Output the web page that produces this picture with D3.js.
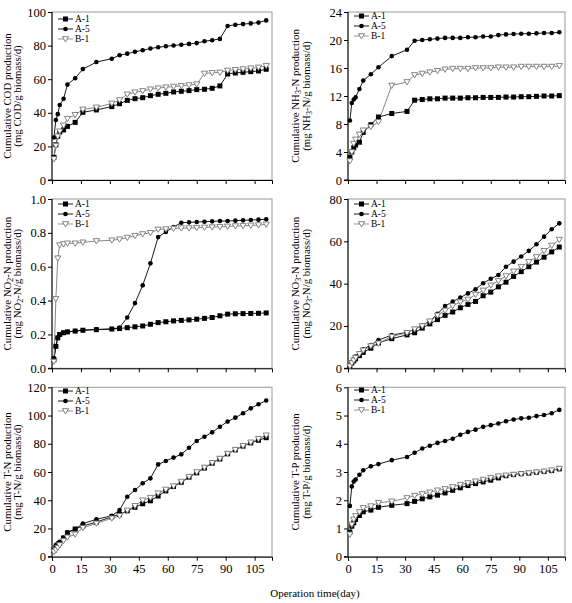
<!DOCTYPE html>
<html>
<head>
<meta charset="utf-8">
<script src="https://cdn.jsdelivr.net/npm/d3@7"></script>
<style>
  body { margin: 0; background: #fff; }
  svg { font-family: "Liberation Serif", "Times New Roman", serif; }
</style>
</head>
<body>
<div id="chart"></div>
<script>
// sampling days (same for every series)
const days = [1, 2, 3, 4, 6, 8, 12, 16, 23, 31, 35, 39, 43, 47, 51, 55, 59, 63, 67, 71, 75, 79, 83, 87, 91, 95, 99, 103, 107, 111];
const xTicks = [0, 15, 30, 45, 60, 75, 90, 105];
const seriesNames = ['A-1', 'A-5', 'B-1'];

// COD
const codA1 = [13.5, 21, 26, 28.6, 29.8, 31.9, 34.3, 40.3, 41.7, 43.7, 45.4, 47.4, 48.4, 49, 50.2, 51, 51.6, 52.4, 52.8, 53.2, 53.8, 54, 54.6, 56, 63.1, 63.7, 64.1, 64.5, 64.9, 65.9];
const codA5 = [25.3, 35.7, 39.2, 44.6, 48.4, 56.8, 60.6, 66, 70.2, 72.2, 74.3, 75.2, 76.3, 77.2, 78.3, 79, 79.6, 80.1, 80.5, 81, 81.5, 82.6, 83.2, 84, 91.7, 92.4, 92.8, 93.2, 93.7, 95];
const codB1 = [12.5, 20.5, 26, 29, 32.5, 36.5, 38.8, 42, 43.2, 45.6, 47.6, 51, 52.2, 53, 54, 54.6, 55.2, 55.6, 56, 56.5, 57, 63.4, 63.8, 64, 65.2, 65.6, 66, 66.5, 67, 68];
// NH3-N
const nh3A1 = [3.2, 4, 4.6, 5, 5.4, 6.8, 7.9, 9, 9.5, 9.8, 11.4, 11.5, 11.6, 11.6, 11.7, 11.7, 11.7, 11.75, 11.75, 11.8, 11.8, 11.8, 11.85, 11.85, 11.9, 11.9, 11.95, 12, 12, 12.05];
const nh3A5 = [8.5, 11, 11.5, 11.8, 13, 14.2, 15.1, 16.1, 17.7, 18.6, 19.9, 20, 20.1, 20.2, 20.3, 20.3, 20.3, 20.4, 20.4, 20.5, 20.5, 20.7, 20.8, 20.85, 20.9, 20.9, 20.95, 21, 21, 21.1];
const nh3B1 = [2.7, 4, 5.2, 5.8, 6.5, 7.1, 7.6, 8.3, 13.5, 14, 15, 15.2, 15.4, 15.6, 15.8, 15.9, 15.9, 15.9, 16, 16, 16, 16.1, 16.1, 16.1, 16.2, 16.2, 16.2, 16.2, 16.2, 16.3];
// NO2-N
const no2A1 = [0.05, 0.13, 0.18, 0.2, 0.21, 0.215, 0.22, 0.225, 0.228, 0.232, 0.235, 0.24, 0.245, 0.25, 0.26, 0.27, 0.275, 0.28, 0.283, 0.286, 0.29, 0.295, 0.3, 0.31, 0.32, 0.322, 0.323, 0.324, 0.325, 0.327];
const no2A5 = [0.06, 0.13, 0.18, 0.2, 0.21, 0.215, 0.22, 0.225, 0.23, 0.232, 0.24, 0.3, 0.385, 0.49, 0.62, 0.775, 0.805, 0.835, 0.86, 0.862, 0.864, 0.866, 0.868, 0.87, 0.87, 0.872, 0.874, 0.876, 0.878, 0.88];
const no2B1 = [0.04, 0.41, 0.65, 0.728, 0.734, 0.738, 0.738, 0.744, 0.752, 0.756, 0.762, 0.772, 0.783, 0.793, 0.8, 0.82, 0.822, 0.826, 0.828, 0.828, 0.83, 0.832, 0.834, 0.836, 0.838, 0.84, 0.842, 0.844, 0.846, 0.85];
// NO3-N
const no3A1 = [1, 2.5, 3.5, 4.5, 6, 7.5, 9.5, 12, 14, 15.8, 16.8, 19, 21, 23, 25, 26.6, 28.6, 30.2, 31.6, 34.3, 36, 38.5, 40.7, 43.4, 45.7, 48, 50.2, 52.5, 55, 57.3];
const no3A5 = [1.5, 3, 4.3, 5.5, 7, 9, 11, 13.3, 15.7, 17, 18.5, 20.3, 22.3, 25.7, 29.4, 31.5, 33.4, 35.4, 37.3, 40.2, 42.3, 44.1, 48, 50.4, 52.8, 55.5, 58.6, 62.2, 65.7, 68.5];
const no3B1 = [1, 2.5, 3.8, 5, 6.8, 8.5, 10.5, 11.8, 15, 16.8, 18.5, 20, 22.2, 25, 27.3, 29.5, 31.3, 32.5, 34.8, 36.8, 39.2, 41.3, 43.6, 45.8, 48, 50.3, 52.6, 55.5, 58, 60.8];
// T-N
const tnA1 = [4.5, 6.5, 8, 9.5, 13.2, 16.8, 19.6, 21.8, 24.5, 28.3, 30, 32.5, 35, 37.5, 39.6, 43, 46.6, 49.7, 52.7, 56.3, 59.4, 62.8, 66.2, 69.2, 72.9, 75.7, 78.3, 80.6, 82.5, 84.3];
const tnA5 = [5.4, 8.3, 9.5, 10.6, 13.5, 17.3, 19.6, 23.4, 26.5, 29, 33, 42.5, 47.2, 52, 55.5, 65.4, 67.8, 70.2, 72.5, 77.2, 82, 85, 88.1, 92.1, 95.7, 98.5, 101.6, 105.1, 108, 110.6];
const tnB1 = [3.5, 4.7, 6.4, 8.3, 11.3, 13.7, 15.8, 20.5, 23.6, 27.2, 29, 32.8, 36, 40, 41.8, 45, 47.6, 50, 53.2, 56.7, 60, 63.2, 66.5, 69.5, 73, 75.8, 78.6, 81, 83.5, 86];
// T-P
const tpA1 = [0.87, 1.08, 1.2, 1.32, 1.46, 1.59, 1.65, 1.75, 1.82, 1.88, 1.96, 2.05, 2.12, 2.18, 2.26, 2.35, 2.44, 2.52, 2.59, 2.65, 2.71, 2.79, 2.87, 2.91, 2.94, 2.96, 2.99, 3.02, 3.05, 3.11];
const tpA5 = [1.8, 2.49, 2.66, 2.73, 2.9, 3.06, 3.2, 3.28, 3.42, 3.53, 3.68, 3.83, 3.93, 4.03, 4.1, 4.18, 4.32, 4.42, 4.5, 4.6, 4.66, 4.72, 4.8, 4.86, 4.9, 4.92, 4.98, 5.02, 5.08, 5.2];
const tpB1 = [0.79, 1.14, 1.32, 1.44, 1.58, 1.73, 1.79, 1.91, 1.96, 2.08, 2.16, 2.22, 2.28, 2.35, 2.4, 2.47, 2.55, 2.61, 2.67, 2.73, 2.79, 2.85, 2.88, 2.91, 2.93, 2.96, 2.99, 3.02, 3.06, 3.12];

// axis titles: [text, isSubscript] pieces
const titles = [
  [[['Cumulative COD production']], [['(mg COD/g biomass/d)']]],
  [[['Cumulative NH'], ['3', 1], ['-N production']], [['(mg NH'], ['3', 1], ['-N/g biomass/d)']]],
  [[['Cumulative NO'], ['2', 1], ['-N production']], [['(mg NO'], ['2', 1], ['-N/g biomass/d)']]],
  [[['Cumulative NO'], ['3', 1], ['-N production']], [['(mg NO'], ['3', 1], ['-N/g biomass/d)']]],
  [[['Cumulative T-N production']], [['(mg T-N/g biomass/d)']]],
  [[['Cumulative T-P production']], [['(mg T-P/g biomass/d)']]]
];

const width = 572, height = 603;
const cols = [[52, 272], [348, 565]];
const rows = [[12, 180], [199, 368.3], [387.3, 556.7]];
const legendTop = [19, 16, 204, 204, 391, 390];
const titleX = [[10.5, 21], [298.5, 309.5]];

const panels = [
  { series: [codA1, codA5, codB1], max: 100, ticks: d3.range(0, 101, 20), fmt: d3.format('d') },
  { series: [nh3A1, nh3A5, nh3B1], max: 24, ticks: d3.range(0, 25, 4), fmt: d3.format('d') },
  { series: [no2A1, no2A5, no2B1], max: 1, ticks: [0, 0.2, 0.4, 0.6, 0.8, 1.0], fmt: d3.format('.1f') },
  { series: [no3A1, no3A5, no3B1], max: 80, ticks: d3.range(0, 81, 20), fmt: d3.format('d') },
  { series: [tnA1, tnA5, tnB1], max: 120, ticks: d3.range(0, 121, 20), fmt: d3.format('d') },
  { series: [tpA1, tpA5, tpB1], max: 6, ticks: d3.range(0, 7, 1), fmt: d3.format('d') }
];

const svg = d3.select('#chart').append('svg')
  .attr('width', width).attr('height', height);

const lineColor = ['#000', '#000', '#888'];

function marker(g, k, x, y) {
  if (k === 0) {
    g.append('rect').attr('x', x - 2.5).attr('y', y - 2.5).attr('width', 5).attr('height', 5).attr('fill', '#000');
  } else if (k === 1) {
    g.append('circle').attr('cx', x).attr('cy', y).attr('r', 2.3).attr('fill', '#000');
  } else {
    const s = 3.1;
    g.append('path')
      .attr('d', `M${x - s},${y - s * 0.75}L${x + s},${y - s * 0.75}L${x},${y + s * 0.95}Z`)
      .attr('fill', '#fff').attr('stroke', '#777').attr('stroke-width', 0.9);
  }
}

panels.forEach((p, i) => {
  const col = cols[i % 2], row = rows[Math.floor(i / 2)];
  const bottomRow = Math.floor(i / 2) === 2;
  const x = d3.scaleLinear().domain([0, 114]).range(col);
  const y = d3.scaleLinear().domain([0, p.max]).range([row[1], row[0]]);
  const g = svg.append('g');

  // frame
  g.append('rect')
    .attr('x', col[0]).attr('y', row[0])
    .attr('width', col[1] - col[0]).attr('height', row[1] - row[0])
    .attr('fill', 'none').attr('stroke', '#9a9a9a').attr('stroke-width', 1);

  const xAxis = d3.axisBottom(x).tickValues(xTicks).tickSize(4).tickPadding(3)
    .tickFormat(bottomRow ? d3.format('d') : '');
  const yAxis = d3.axisLeft(y).tickValues(p.ticks).tickSize(4).tickPadding(2).tickFormat(p.fmt);

  const gx = g.append('g').attr('transform', `translate(0,${row[1]})`).call(xAxis);
  const gy = g.append('g').attr('transform', `translate(${col[0]},0)`).call(yAxis);
  [gx, gy].forEach(a => {
    a.select('.domain').attr('stroke', '#000');
    a.selectAll('.tick line').attr('stroke', '#000');
    a.selectAll('text').attr('font-family', '"Liberation Serif", serif').attr('font-size', 12.5).attr('fill', '#000');
  });
  gy.select('.domain').attr('d', `M${-4},${row[1]}H0V${row[0]}`);

  // lines and markers
  const line = d3.line().x((d, j) => x(days[j])).y(d => y(d));
  p.series.forEach((s, k) => {
    g.append('path').datum(s).attr('d', line)
      .attr('fill', 'none').attr('stroke', lineColor[k]).attr('stroke-width', k === 2 ? 1 : 0.9);
  });
  p.series.forEach((s, k) => {
    const mg = g.append('g');
    s.forEach((v, j) => marker(mg, k, x(days[j]), y(v)));
  });

  // legend
  seriesNames.forEach((name, k) => {
    const ly = legendTop[i] + k * 10;
    g.append('line').attr('x1', col[0] + 6).attr('x2', col[0] + 21)
      .attr('y1', ly).attr('y2', ly).attr('stroke', lineColor[k]).attr('stroke-width', 0.9);
    marker(g, k, col[0] + 13.5, ly);
    g.append('text').attr('x', col[0] + 23).attr('y', ly).attr('dy', '0.35em')
      .attr('font-size', 9.5).text(name);
  });

  // y title (two lines)
  const cy = (row[0] + row[1]) / 2;
  titles[i].forEach((parts, li) => {
    const tx = titleX[i % 2][li];
    const t = g.append('text')
      .attr('transform', `translate(${tx},${cy}) rotate(-90)`)
      .attr('text-anchor', 'middle').attr('font-size', 10.8);
    parts.forEach(([str, sub]) => {
      const ts = t.append('tspan').text(str);
      if (sub) ts.attr('font-size', 8).attr('baseline-shift', '-2');
    });
  });
});

svg.append('text').attr('x', 315).attr('y', 597)
  .attr('text-anchor', 'middle').attr('font-size', 11)
  .text('Operation time(day)');
</script>
</body>
</html>
